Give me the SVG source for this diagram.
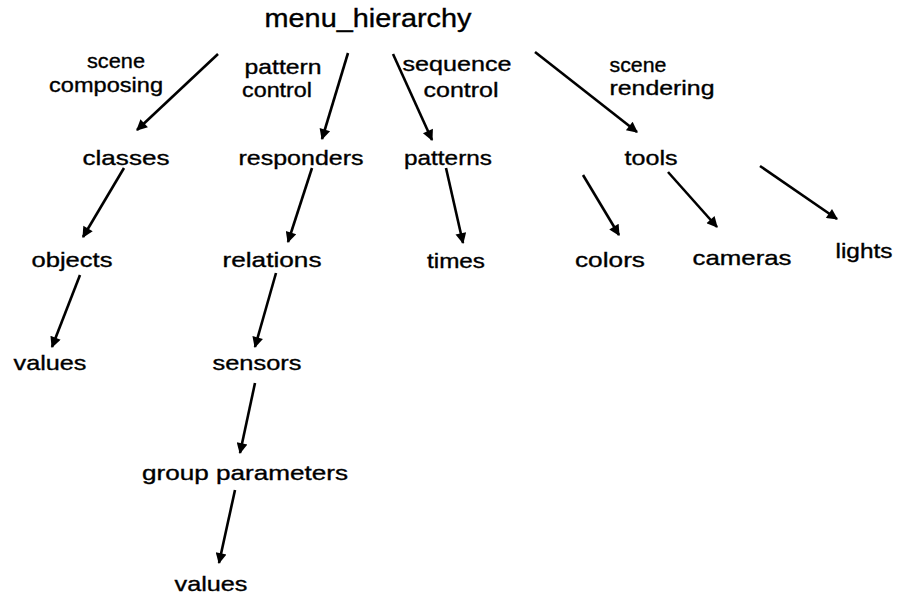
<svg xmlns="http://www.w3.org/2000/svg" width="898" height="596" viewBox="0 0 898 596">
  <style>
    text { font-family: "Liberation Sans", Arial, sans-serif; font-size: 21px; fill: #000; stroke: #000; stroke-width: 0.35; text-anchor: middle; }
    .title { font-size: 25px; }
    .edge { stroke: #000; stroke-width: 2.6; fill: none; marker-end: url(#head); }
  </style>
  <defs>
    <marker id="head" viewBox="0 0 10 10" refX="9" refY="5" markerWidth="7.5" markerHeight="4.2" orient="auto" markerUnits="strokeWidth">
      <path d="M0,0 L10,5 L0,10 Z" fill="#000"/>
    </marker>
  </defs>
  <rect width="898" height="596" fill="#fff"/>

  <!-- connectors -->
  <g id="connectors">
    <line class="edge" x1="218" y1="54" x2="137" y2="130"/>
    <line class="edge" x1="348" y1="53" x2="322" y2="139"/>
    <line class="edge" x1="393" y1="54" x2="432" y2="140"/>
    <line class="edge" x1="535" y1="52" x2="637" y2="132"/>
    <line class="edge" x1="124" y1="168" x2="83" y2="237"/>
    <line class="edge" x1="80" y1="275" x2="52" y2="347"/>
    <line class="edge" x1="312" y1="168" x2="288" y2="242"/>
    <line class="edge" x1="276" y1="273" x2="255" y2="347"/>
    <line class="edge" x1="255" y1="383" x2="240" y2="453"/>
    <line class="edge" x1="235" y1="490" x2="219" y2="563"/>
    <line class="edge" x1="446" y1="168" x2="463" y2="243"/>
    <line class="edge" x1="583" y1="175" x2="619" y2="235"/>
    <line class="edge" x1="668" y1="172" x2="717" y2="227"/>
    <line class="edge" x1="760" y1="166" x2="837" y2="219"/>
  </g>

  <!-- edge labels -->
  <g id="edge-labels">
    <text x="116" y="68" textLength="58" lengthAdjust="spacingAndGlyphs">scene</text>
    <text x="106" y="92" textLength="114" lengthAdjust="spacingAndGlyphs">composing</text>
    <text x="283" y="74" textLength="77" lengthAdjust="spacingAndGlyphs">pattern</text>
    <text x="277" y="97" textLength="70" lengthAdjust="spacingAndGlyphs">control</text>
    <text x="457" y="71" textLength="109" lengthAdjust="spacingAndGlyphs">sequence</text>
    <text x="461" y="97" textLength="75" lengthAdjust="spacingAndGlyphs">control</text>
    <text x="638" y="72" textLength="57" lengthAdjust="spacingAndGlyphs">scene</text>
    <text x="662" y="95" textLength="105" lengthAdjust="spacingAndGlyphs">rendering</text>
  </g>

  <g id="menu_hierarchy"><text class="title" x="368" y="27" textLength="207" lengthAdjust="spacingAndGlyphs">menu_hierarchy</text></g>
  <g id="classes"><text x="126" y="165" textLength="87" lengthAdjust="spacingAndGlyphs">classes</text></g>
  <g id="responders"><text x="301" y="165" textLength="125" lengthAdjust="spacingAndGlyphs">responders</text></g>
  <g id="patterns"><text x="448" y="165" textLength="88" lengthAdjust="spacingAndGlyphs">patterns</text></g>
  <g id="tools"><text x="651" y="165" textLength="53" lengthAdjust="spacingAndGlyphs">tools</text></g>
  <g id="objects"><text x="72" y="267" textLength="81" lengthAdjust="spacingAndGlyphs">objects</text></g>
  <g id="relations"><text x="272" y="267" textLength="99" lengthAdjust="spacingAndGlyphs">relations</text></g>
  <g id="times"><text x="456" y="268" textLength="58" lengthAdjust="spacingAndGlyphs">times</text></g>
  <g id="colors"><text x="610" y="267" textLength="70" lengthAdjust="spacingAndGlyphs">colors</text></g>
  <g id="cameras"><text x="742" y="265" textLength="99" lengthAdjust="spacingAndGlyphs">cameras</text></g>
  <g id="lights"><text x="864" y="258" textLength="57" lengthAdjust="spacingAndGlyphs">lights</text></g>
  <g id="values1"><text x="50" y="370" textLength="73" lengthAdjust="spacingAndGlyphs">values</text></g>
  <g id="sensors"><text x="257" y="370" textLength="89" lengthAdjust="spacingAndGlyphs">sensors</text></g>
  <g id="group_parameters"><text x="245" y="480" textLength="206" lengthAdjust="spacingAndGlyphs">group parameters</text></g>
  <g id="values2"><text x="211" y="591" textLength="73" lengthAdjust="spacingAndGlyphs">values</text></g>
</svg>
